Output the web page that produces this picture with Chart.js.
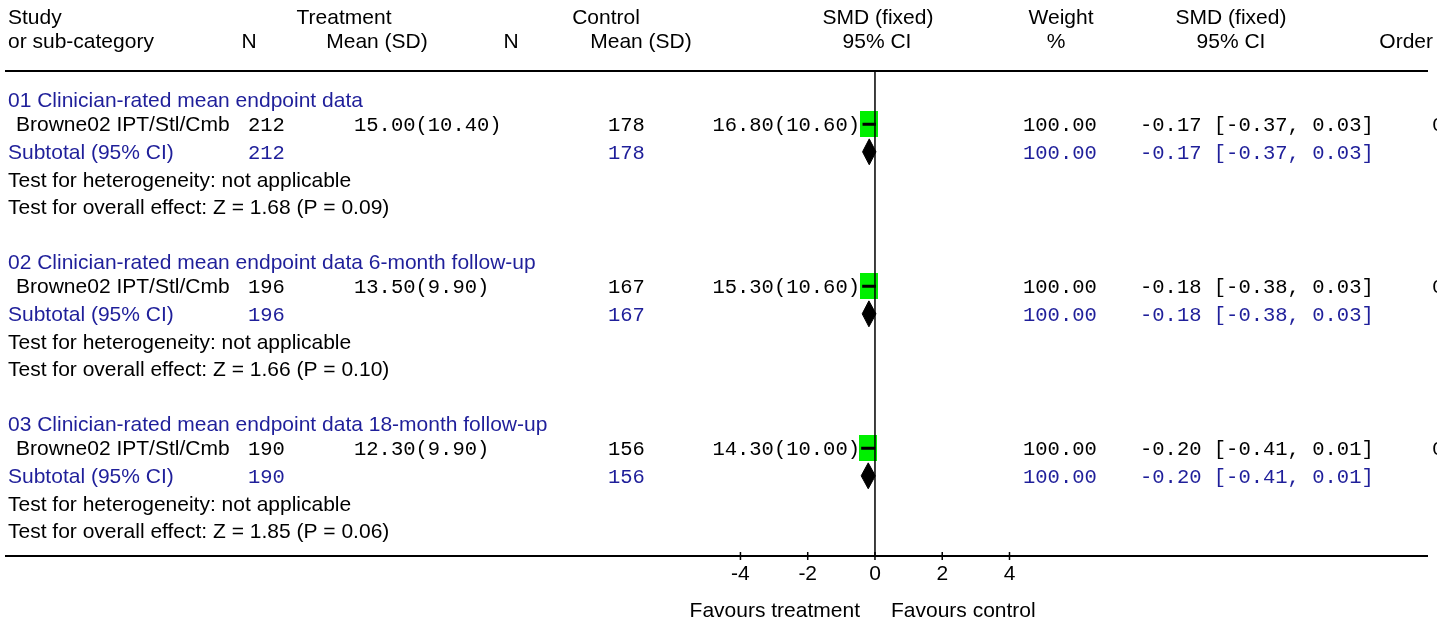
<!DOCTYPE html>
<html>
<head>
<meta charset="utf-8">
<script src="https://cdn.jsdelivr.net/npm/chart.js@4.4.1/dist/chart.umd.min.js"></script>
<style>
  html, body { margin: 0; padding: 0; background: #fff; }
  canvas { display: block; }
</style>
</head>
<body>
<canvas id="forest" width="1454" height="621"></canvas>
<script>
// values
const groupTitles = [
    "01 Clinician-rated mean endpoint data",
    "02 Clinician-rated mean endpoint data 6-month follow-up",
    "03 Clinician-rated mean endpoint data 18-month follow-up"
];
const studyNames = ["Browne02 IPT/Stl/Cmb", "Browne02 IPT/Stl/Cmb", "Browne02 IPT/Stl/Cmb"];
const treatN = [212, 196, 190];
const treatMean = [15.00, 13.50, 12.30];
const treatSD = [10.40, 9.90, 9.90];
const ctrlN = [178, 167, 156];
const ctrlMean = [16.80, 15.30, 14.30];
const ctrlSD = [10.60, 10.60, 10.00];
const weights = [100, 100, 100];
const smd = [-0.17, -0.18, -0.20];
const ciLow = [-0.37, -0.38, -0.41];
const ciHigh = [0.03, 0.03, 0.01];
const heterogeneity = ["not applicable", "not applicable", "not applicable"];
const zValues = [1.68, 1.66, 1.85];
const pValues = [0.09, 0.10, 0.06];
const orderLabels = ["0", "0", "0"];
const xTicks = [-4, -2, 0, 2, 4];

// each group: title, study, subtotal, heterogeneity, overall effect (+ blank line)
const ROWS_PER_GROUP = 6;
const rowOffsets = [0, 0.9, 1.92, 2.96, 3.96];
const rowOf = (g, k) => g * ROWS_PER_GROUP + rowOffsets[k];

const BLUE = "#1f1f9a";
const GREEN = "#00f000";
const SANS = '21px "Liberation Sans", Arial, sans-serif';
const MONO = '20.5px "Liberation Mono", monospace';

const Y_MIN = -1.074, Y_MAX = 16.89;

// green study box (same size for every study, all have 100% weight)
const box = document.createElement("canvas");
box.width = 18;
box.height = 26;
const bctx = box.getContext("2d");
bctx.fillStyle = GREEN;
bctx.fillRect(0, 0, box.width, box.height);

const ciPoints = [];
smd.forEach((_, i) => {
    ciPoints.push({ x: ciLow[i], y: rowOf(i, 1) });
    ciPoints.push({ x: ciHigh[i], y: rowOf(i, 1) });
    ciPoints.push({ x: NaN, y: NaN });
});

const datasets = [
    {
        label: "zero",
        data: [{ x: 0, y: Y_MIN }, { x: 0, y: Y_MAX }],
        borderColor: "#000",
        borderWidth: 1.5,
        pointRadius: 0,
        order: 0
    },
    {
        label: "ci",
        data: ciPoints,
        borderColor: "#000",
        borderWidth: 3,
        pointRadius: 0,
        spanGaps: false,
        order: 1
    },
    {
        label: "studies",
        data: smd.map((v, i) => ({ x: v, y: rowOf(i, 1) })),
        showLine: false,
        pointStyle: box,
        pointRadius: 9,
        order: 2
    }
];

// subtotal diamonds: upper half filled down to lower half
const DH = 0.48;
smd.forEach((v, i) => {
    const r = rowOf(i, 2);
    datasets.push({
        label: "diamond-top-" + i,
        data: [{ x: ciLow[i], y: r }, { x: v, y: r - DH }, { x: ciHigh[i], y: r }],
        borderColor: "#000",
        backgroundColor: "#000",
        borderWidth: 1,
        pointRadius: 0,
        tension: 0,
        fill: "+1",
        order: 3
    });
    datasets.push({
        label: "diamond-bottom-" + i,
        data: [{ x: ciLow[i], y: r }, { x: v, y: r + DH }, { x: ciHigh[i], y: r }],
        borderColor: "#000",
        borderWidth: 1,
        pointRadius: 0,
        tension: 0,
        fill: false,
        order: 3
    });
});

function txt(ctx, s, x, y, font, color, align) {
    ctx.save();
    ctx.font = font;
    ctx.fillStyle = color;
    ctx.textAlign = align || "left";
    ctx.textBaseline = "alphabetic";
    ctx.fillText(s, x, y);
    ctx.restore();
}

const tablePlugin = {
    id: "table",
    afterDraw(chart) {
        const ctx = chart.ctx;
        const xs = chart.scales.x;
        const ys = chart.scales.y;
        const area = chart.chartArea;
        const K = "#000";
        const base = r => ys.getPixelForValue(r) + 7;

        // header
        txt(ctx, "Study", 8, 24, SANS, K);
        txt(ctx, "or sub-category", 8, 48, SANS, K);
        txt(ctx, "Treatment", 344, 24, SANS, K, "center");
        txt(ctx, "N", 249, 48, SANS, K, "center");
        txt(ctx, "Mean (SD)", 377, 48, SANS, K, "center");
        txt(ctx, "Control", 606, 24, SANS, K, "center");
        txt(ctx, "N", 511, 48, SANS, K, "center");
        txt(ctx, "Mean (SD)", 641, 48, SANS, K, "center");
        txt(ctx, "SMD (fixed)", 878, 24, SANS, K, "center");
        txt(ctx, "95% CI", 877, 48, SANS, K, "center");
        txt(ctx, "Weight", 1061, 24, SANS, K, "center");
        txt(ctx, "%", 1056, 48, SANS, K, "center");
        txt(ctx, "SMD (fixed)", 1231, 24, SANS, K, "center");
        txt(ctx, "95% CI", 1231, 48, SANS, K, "center");
        txt(ctx, "Order", 1433, 48, SANS, K, "right");

        // rules
        ctx.save();
        ctx.strokeStyle = "#000";
        ctx.lineWidth = 2;
        ctx.beginPath();
        ctx.moveTo(5, area.top);
        ctx.lineTo(1428, area.top);
        ctx.moveTo(5, area.bottom);
        ctx.lineTo(1428, area.bottom);
        ctx.stroke();
        ctx.lineWidth = 1.5;
        ctx.beginPath();
        xTicks.forEach(t => {
            const px = xs.getPixelForValue(t);
            ctx.moveTo(px, area.bottom - 4);
            ctx.lineTo(px, area.bottom + 4);
        });
        ctx.stroke();
        ctx.restore();
        xTicks.forEach(t => {
            txt(ctx, String(t), xs.getPixelForValue(t), area.bottom + 24, SANS, K, "center");
        });
        txt(ctx, "Favours treatment", xs.getPixelForValue(0) - 15, area.bottom + 61, SANS, K, "right");
        txt(ctx, "Favours control", xs.getPixelForValue(0) + 16, area.bottom + 61, SANS, K, "left");

        // groups
        groupTitles.forEach((title, g) => {
            const f = n => n.toFixed(2);
            txt(ctx, title, 8, base(rowOf(g, 0)), SANS, BLUE);

            const y1 = base(rowOf(g, 1));
            txt(ctx, studyNames[g], 16, y1, SANS, K);
            txt(ctx, String(treatN[g]), 248, y1, MONO, K);
            txt(ctx, f(treatMean[g]) + "(" + f(treatSD[g]) + ")", 354, y1, MONO, K);
            txt(ctx, String(ctrlN[g]), 608, y1, MONO, K);
            txt(ctx, f(ctrlMean[g]) + "(" + f(ctrlSD[g]) + ")", 860, y1, MONO, K, "right");
            txt(ctx, f(weights[g]), 1023, y1, MONO, K);
            const ci = f(smd[g]) + " [" + f(ciLow[g]) + ", " + f(ciHigh[g]) + "]";
            txt(ctx, ci, 1140, y1, MONO, K);
            ctx.save();
            ctx.beginPath();
            ctx.rect(1420, y1 - 20, 17, 30);
            ctx.clip();
            txt(ctx, orderLabels[g], 1432, y1, MONO, K);
            ctx.restore();

            const y2 = base(rowOf(g, 2));
            txt(ctx, "Subtotal (95% CI)", 8, y2, SANS, BLUE);
            txt(ctx, String(treatN[g]), 248, y2, MONO, BLUE);
            txt(ctx, String(ctrlN[g]), 608, y2, MONO, BLUE);
            txt(ctx, f(weights[g]), 1023, y2, MONO, BLUE);
            txt(ctx, ci, 1140, y2, MONO, BLUE);

            txt(ctx, "Test for heterogeneity: " + heterogeneity[g], 8, base(rowOf(g, 3)), SANS, K);
            txt(ctx, "Test for overall effect: Z = " + f(zValues[g]) + " (P = " + f(pValues[g]) + ")",
                8, base(rowOf(g, 4)), SANS, K);
        });
    }
};

new Chart(document.getElementById("forest"), {
    type: "line",
    data: { datasets: datasets },
    options: {
        responsive: false,
        animation: false,
        devicePixelRatio: 1,
        layout: { padding: { top: 71, bottom: 65, left: 0, right: 0 } },
        scales: {
            x: { type: "linear", display: false, min: -25.72, max: 16.92 },
            y: { type: "linear", display: false, reverse: true, min: Y_MIN, max: Y_MAX }
        },
        plugins: {
            legend: { display: false },
            tooltip: { enabled: false }
        }
    },
    plugins: [tablePlugin]
});
</script>
</body>
</html>
